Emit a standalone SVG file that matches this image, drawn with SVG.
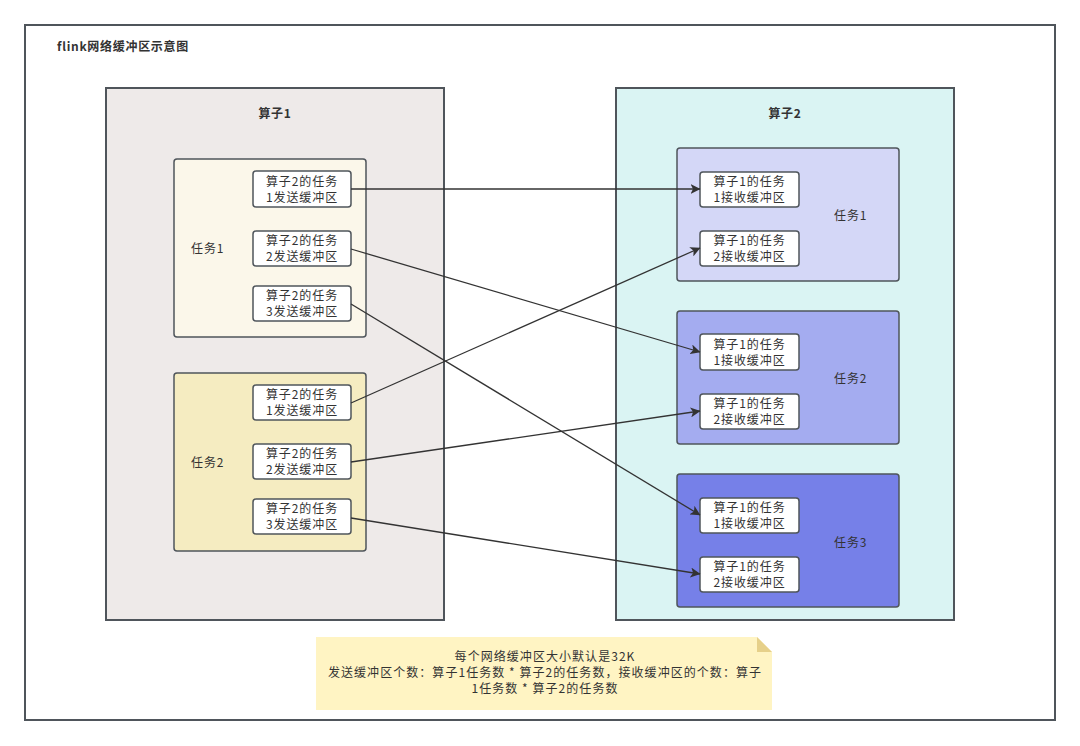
<svg xmlns="http://www.w3.org/2000/svg" width="1080" height="746" viewBox="0 0 1080 746">
<defs>
<style>
text{font-family:"Noto Sans CJK SC","Liberation Sans",sans-serif;font-size:12px;fill:#333;letter-spacing:0.9px;}
.b{font-weight:bold;letter-spacing:0.7px;}
.frame{fill:#fff;stroke:#4f555b;stroke-width:2;}
.op{stroke:#4f555b;stroke-width:2;}
.task{stroke:#4f555b;stroke-width:1.5;}
.buf{fill:#fff;stroke:#4f555b;stroke-width:1.5;}
.c{text-anchor:middle;}
.n{letter-spacing:1.05px;}
.edge{fill:none;stroke:#333;stroke-width:1.3;marker-end:url(#ah);}
</style>
<marker id="ah" viewBox="0 0 10 10" refX="9.5" refY="5" markerWidth="10" markerHeight="10" markerUnits="userSpaceOnUse" orient="auto">
<path d="M0,0 L10,5 L0,10 L2.5,5 Z" fill="#333"/>
</marker>
</defs>
<rect width="1080" height="746" fill="#fff"/>
<rect class="frame" x="25" y="25" width="1030" height="695"/>
<text class="b" x="57" y="51">flink网络缓冲区示意图</text>

<g id="op1">
<rect class="op" x="106" y="88" width="338" height="532" fill="#eeeae9"/>
<text class="b c" x="275" y="118">算子1</text>
</g>
<g id="op2">
<rect class="op" x="616" y="88" width="338" height="532" fill="#daf4f3"/>
<text class="b c" x="785" y="118">算子2</text>
</g>

<g id="l-task1">
<rect class="task" x="174" y="159" width="192" height="178" rx="3" fill="#fbf7ea"/>
<text x="191" y="253">任务1</text>
</g>
<g id="l-task2">
<rect class="task" x="174" y="373" width="192" height="178" rx="3" fill="#f5ecc1"/>
<text x="191" y="467">任务2</text>
</g>

<g id="s11"><rect class="buf" x="253" y="171" width="98" height="36" rx="3"/><text class="c" x="302" y="186">算子2的任务</text><text class="c" x="302" y="202">1发送缓冲区</text></g>
<g id="s12"><rect class="buf" x="253" y="231" width="98" height="35" rx="3"/><text class="c" x="302" y="245">算子2的任务</text><text class="c" x="302" y="261">2发送缓冲区</text></g>
<g id="s13"><rect class="buf" x="253" y="286" width="98" height="35" rx="3"/><text class="c" x="302" y="300">算子2的任务</text><text class="c" x="302" y="316">3发送缓冲区</text></g>
<g id="s21"><rect class="buf" x="253" y="385" width="98" height="35" rx="3"/><text class="c" x="302" y="399">算子2的任务</text><text class="c" x="302" y="415">1发送缓冲区</text></g>
<g id="s22"><rect class="buf" x="253" y="444" width="98" height="35" rx="3"/><text class="c" x="302" y="458">算子2的任务</text><text class="c" x="302" y="474">2发送缓冲区</text></g>
<g id="s23"><rect class="buf" x="253" y="499" width="98" height="35" rx="3"/><text class="c" x="302" y="513">算子2的任务</text><text class="c" x="302" y="529">3发送缓冲区</text></g>

<g id="r-task1">
<rect class="task" x="677" y="148" width="222" height="133" rx="3" fill="#d4d7f7"/>
<text x="834" y="220">任务1</text>
</g>
<g id="r-task2">
<rect class="task" x="677" y="311" width="222" height="133" rx="3" fill="#a4acf0"/>
<text x="834" y="383">任务2</text>
</g>
<g id="r-task3">
<rect class="task" x="677" y="474" width="222" height="133" rx="3" fill="#7680e8"/>
<text x="834" y="547">任务3</text>
</g>

<g id="r11"><rect class="buf" x="700" y="172" width="99" height="35" rx="3"/><text class="c" x="749.5" y="186">算子1的任务</text><text class="c" x="749.5" y="202">1接收缓冲区</text></g>
<g id="r12"><rect class="buf" x="700" y="231" width="99" height="35" rx="3"/><text class="c" x="749.5" y="245">算子1的任务</text><text class="c" x="749.5" y="261">2接收缓冲区</text></g>
<g id="r21"><rect class="buf" x="700" y="334" width="99" height="36" rx="3"/><text class="c" x="749.5" y="349">算子1的任务</text><text class="c" x="749.5" y="365">1接收缓冲区</text></g>
<g id="r22"><rect class="buf" x="700" y="394" width="99" height="35" rx="3"/><text class="c" x="749.5" y="408">算子1的任务</text><text class="c" x="749.5" y="424">2接收缓冲区</text></g>
<g id="r31"><rect class="buf" x="700" y="498" width="99" height="35" rx="3"/><text class="c" x="749.5" y="512">算子1的任务</text><text class="c" x="749.5" y="528">1接收缓冲区</text></g>
<g id="r32"><rect class="buf" x="700" y="557" width="99" height="35" rx="3"/><text class="c" x="749.5" y="571">算子1的任务</text><text class="c" x="749.5" y="587">2接收缓冲区</text></g>

<g id="connectors">
<path class="edge" d="M351,189 L700,189"/>
<path class="edge" d="M351,249 L700,352"/>
<path class="edge" d="M351,304 L700,515"/>
<path class="edge" d="M351,403 L700,248"/>
<path class="edge" d="M351,462 L700,411"/>
<path class="edge" d="M351,518 L700,574"/>
</g>

<g id="note">
<path d="M316,637 L757,637 L772,652 L772,710 L316,710 Z" fill="#fff4c3"/>
<path d="M757,637 L772,652 L757,652 Z" fill="#e6d08a"/>
<text class="c n" x="545" y="661">每个网络缓冲区大小默认是32K</text>
<text class="c n" x="545" y="677">发送缓冲区个数：算子1任务数 * 算子2的任务数，接收缓冲区的个数：算子</text>
<text class="c n" x="545" y="693">1任务数 * 算子2的任务数</text>
</g>
</svg>
